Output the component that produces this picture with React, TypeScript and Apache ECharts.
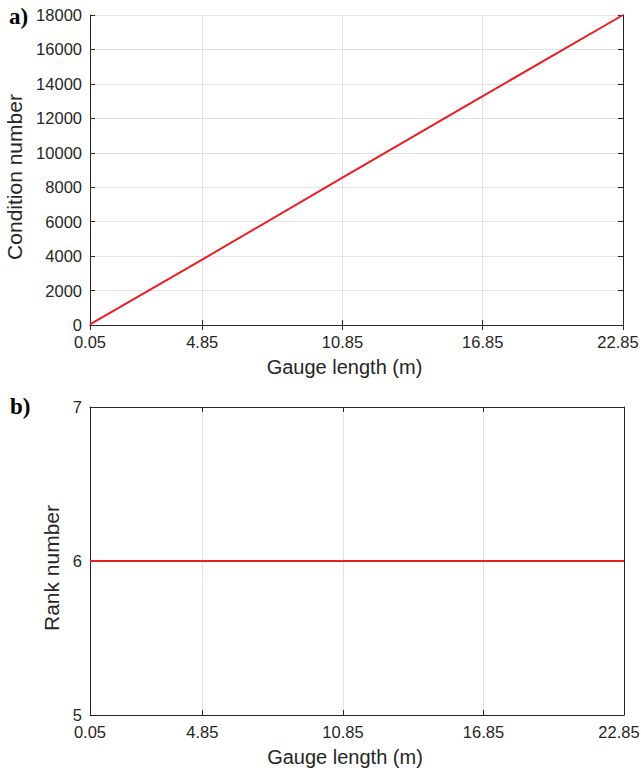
import React, { useEffect, useRef } from "react";
import * as echarts from "echarts";

const xTicks = [0.05, 4.85, 10.85, 16.85, 22.85];
const condX = [0.05, 4.85, 10.85, 16.85, 22.85];
const condY = [40, 3800, 8560, 13290, 18000];
const rankX = [0.05, 4.85, 10.85, 16.85, 22.85];
const rankY = [6, 6, 6, 6, 6];
const panelLabels = ["a)", "b)"];

const TXT = "#262626";
const AX = "#262626";
const GRIDC = "#e3e3e3";
const RED = "#ec1c24";
const TICKF = 16.5;
const XNAMEF = 20;
const YNAMEF = 21;
const FONT = "'Liberation Sans', Arial, Helvetica, sans-serif";

export default function App() {
  const ref = useRef<HTMLDivElement>(null);
  useEffect(() => {
    if (!ref.current) return;
    const chart = echarts.init(ref.current, undefined, { renderer: "svg" });
    const axisLine = { show: true, lineStyle: { color: AX, width: 1 } };
    const lastX = xTicks[xTicks.length - 1];
    const xMain = (gi: number, gap: number) => ({
      type: "value",
      gridIndex: gi,
      min: 0.05,
      max: 22.85,
      position: "bottom",
      name: "Gauge length (m)",
      nameLocation: "middle",
      nameGap: gap,
      nameTextStyle: { color: TXT, fontSize: XNAMEF, fontFamily: FONT, padding: [0, 24, 0, 0] },
      axisLine,
      axisTick: { show: true, inside: true, length: 5, lineStyle: { color: AX }, customValues: xTicks },
      axisLabel: {
        show: true,
        customValues: xTicks,
        color: TXT,
        fontSize: TICKF,
        fontFamily: FONT,
        margin: 8,
        formatter: (v: number) =>
          Math.abs(v - lastX) < 1e-6 ? "{r|" + v.toFixed(2) + "}" : v.toFixed(2),
        rich: {
          r: { color: TXT, fontSize: TICKF, fontFamily: FONT, padding: [0, 10, 0, 0] },
        },
      },
      splitLine: { show: true, lineStyle: { color: GRIDC, width: 1 } },
    });
    const xTop = (gi: number) => ({
      type: "value",
      gridIndex: gi,
      min: 0.05,
      max: 22.85,
      position: "top",
      axisLine,
      axisTick: { show: true, inside: true, length: 5, lineStyle: { color: AX }, customValues: xTicks },
      axisLabel: { show: false },
      splitLine: { show: false },
    });
    const yMain = (gi: number, min: number, max: number, interval: number, name: string, gap: number) => ({
      type: "value",
      gridIndex: gi,
      min,
      max,
      interval,
      position: "left",
      name,
      nameLocation: "middle",
      nameGap: gap,
      nameTextStyle: { color: TXT, fontSize: YNAMEF, fontFamily: FONT, padding: [0, 14, 0, 0] },
      axisLine,
      axisTick: { show: true, inside: true, length: 5, lineStyle: { color: AX } },
      axisLabel: {
        show: true,
        color: TXT,
        fontSize: TICKF,
        fontFamily: FONT,
        margin: 8,
        formatter: (v: number) => String(v),
      },
      splitLine: { show: true, lineStyle: { color: GRIDC, width: 1 } },
    });
    const yRight = (gi: number, min: number, max: number, interval: number) => ({
      type: "value",
      gridIndex: gi,
      min,
      max,
      interval,
      position: "right",
      axisLine,
      axisTick: { show: true, inside: true, length: 5, lineStyle: { color: AX } },
      axisLabel: { show: false },
      splitLine: { show: false },
    });

    chart.setOption({
      animation: false,
      backgroundColor: "#ffffff",
      textStyle: { fontFamily: FONT },
      grid: [
        { left: 90, top: 15, right: 18, height: 310, show: false, containLabel: false, outerBoundsMode: "none" },
        { left: 90, top: 407, right: 17, height: 308, show: false, containLabel: false, outerBoundsMode: "none" },
      ],
      xAxis: [xMain(0, 32), xTop(0), xMain(1, 32), xTop(1)],
      yAxis: [
        yMain(0, 0, 18000, 2000, "Condition number", 53),
        yRight(0, 0, 18000, 2000),
        yMain(1, 5, 7, 1, "Rank number", 18),
        yRight(1, 5, 7, 1),
      ],
      series: [
        {
          type: "line",
          xAxisIndex: 0,
          yAxisIndex: 0,
          data: condX.map((x, i) => [x, condY[i]]),
          showSymbol: false,
          lineStyle: { color: RED, width: 2 },
          z: 5,
        },
        {
          type: "line",
          xAxisIndex: 2,
          yAxisIndex: 2,
          data: rankX.map((x, i) => [x, rankY[i]]),
          showSymbol: false,
          lineStyle: { color: RED, width: 2 },
          z: 5,
        },
      ],
      graphic: [
        {
          type: "text",
          left: 9,
          top: 5,
          style: { text: panelLabels[0], fill: "#000", font: "bold 23px 'Liberation Serif', 'Times New Roman', serif" },
        },
        {
          type: "text",
          left: 10,
          top: 395,
          style: { text: panelLabels[1], fill: "#000", font: "bold 23px 'Liberation Serif', 'Times New Roman', serif" },
        },
      ],
    });
    return () => chart.dispose();
  }, []);
  return (
    <div
      ref={ref}
      style={{ position: "fixed", left: 0, top: 0, width: 641, height: 770, background: "#fff" }}
    />
  );
}
